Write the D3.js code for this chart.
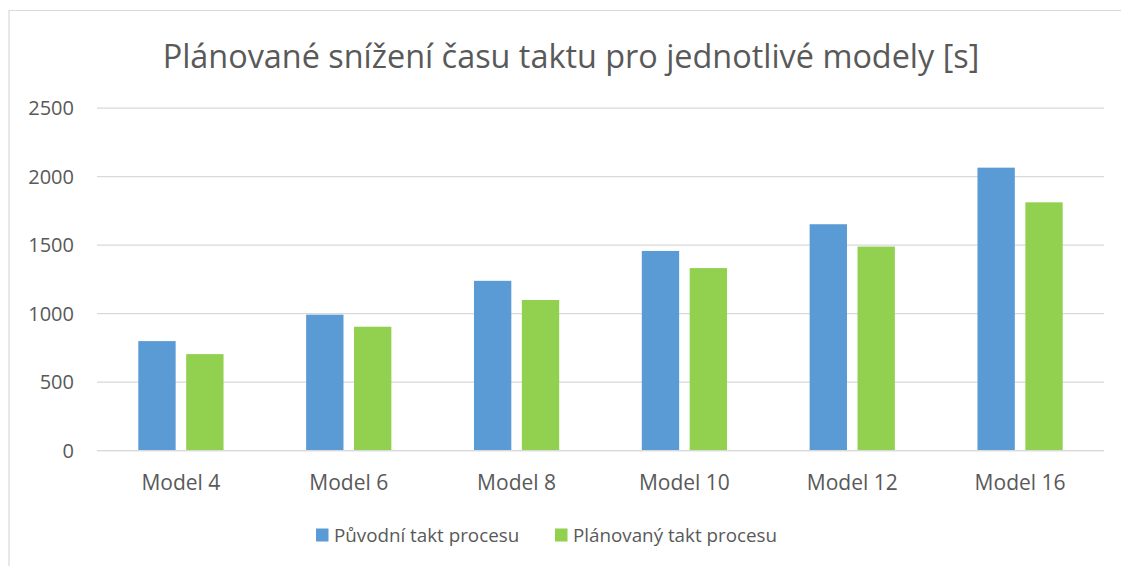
<!DOCTYPE html>
<html>
<head>
<meta charset="utf-8">
<script src="https://cdn.jsdelivr.net/npm/d3@7"></script>
<style>
  body { margin: 0; background: #fff; }
  text { font-family: "Open Sans", sans-serif; fill: #595959; }
</style>
</head>
<body>
<div id="chart"></div>
<script>
const categories = ["Model 4", "Model 6", "Model 8", "Model 10", "Model 12", "Model 16"];
const seriesNames = ["Původní takt procesu", "Plánovaný takt procesu"];
const puvodni = [800, 993, 1240, 1458, 1653, 2066];
const planovany = [705, 905, 1100, 1333, 1490, 1813];
const yTicks = [0, 500, 1000, 1500, 2000, 2500];
const colors = ["#5B9BD5", "#92D050"];
const title = "Plánované snížení času taktu pro jednotlivé modely [s]";

const width = 1121, height = 566;
const plot = { left: 97, right: 1104, top: 108.2, bottom: 450.7 };

const svg = d3.select('#chart')
    .append('svg')
    .attr('width', width)
    .attr('height', height);

// chart frame (cropped on right/bottom)
svg.append('path')
    .attr('d', `M 9 ${height} V 10.5 H ${width}`)
    .attr('fill', 'none')
    .attr('stroke', '#D9D9D9')
    .attr('stroke-width', 1.2);

const x0 = d3.scaleBand()
    .domain(categories)
    .range([plot.left, plot.right])
    .paddingInner(0)
    .paddingOuter(0);

const x1 = d3.scaleBand()
    .domain([0, 1])
    .range([41.3, x0.bandwidth() - 41.3])
    .paddingInner(0.22);

const y = d3.scaleLinear()
    .domain([0, 2500])
    .range([plot.bottom, plot.top]);

// gridlines
svg.append('g')
    .selectAll('line')
    .data(yTicks)
    .enter().append('line')
    .attr('x1', plot.left)
    .attr('x2', plot.right)
    .attr('y1', d => y(d))
    .attr('y2', d => y(d))
    .attr('stroke', '#D9D9D9')
    .attr('stroke-width', 1.3);

// y labels
svg.append('g')
    .selectAll('text')
    .data(yTicks)
    .enter().append('text')
    .attr('x', 74)
    .attr('y', d => y(d))
    .attr('dy', '0.36em')
    .attr('text-anchor', 'end')
    .style('font-size', '20px')
    .text(d => d);

const rows = categories.map((c, i) => ({ cat: c, vals: [puvodni[i], planovany[i]] }));

const groups = svg.append('g')
    .selectAll('g')
    .data(rows)
    .enter().append('g')
    .attr('transform', d => `translate(${x0(d.cat)}, 0)`);

groups.selectAll('rect')
    .data(d => d.vals.map((v, k) => ({ k: k, v: v })))
    .enter().append('rect')
    .attr('x', d => x1(d.k))
    .attr('width', x1.bandwidth())
    .attr('y', d => y(d.v))
    .attr('height', d => y(0) - y(d.v))
    .attr('fill', d => colors[d.k]);

// zero line redrawn over bars
svg.append('line')
    .attr('x1', plot.left)
    .attr('x2', plot.right)
    .attr('y1', y(0))
    .attr('y2', y(0))
    .attr('stroke', '#D9D9D9')
    .attr('stroke-width', 1.3);

// category labels
svg.append('g')
    .selectAll('text')
    .data(categories)
    .enter().append('text')
    .attr('x', d => x0(d) + x0.bandwidth() / 2)
    .attr('y', 490)
    .attr('text-anchor', 'middle')
    .style('font-size', '21px')
    .text(d => d);

// title
svg.append('text')
    .attr('x', 571)
    .attr('y', 68)
    .attr('text-anchor', 'middle')
    .style('font-size', '32.4px')
    .text(title);

// legend
const legendX = [316, 555];
const legend = svg.append('g')
    .selectAll('g')
    .data(seriesNames)
    .enter().append('g')
    .attr('transform', (d, i) => `translate(${legendX[i]}, 535)`);

legend.append('rect')
    .attr('x', 0)
    .attr('y', -6.5)
    .attr('width', 12.5)
    .attr('height', 13)
    .attr('fill', (d, i) => colors[i]);

legend.append('text')
    .attr('x', 18)
    .attr('y', 0)
    .attr('dy', '0.36em')
    .style('font-size', '18.8px')
    .text(d => d);
</script>
</body>
</html>
